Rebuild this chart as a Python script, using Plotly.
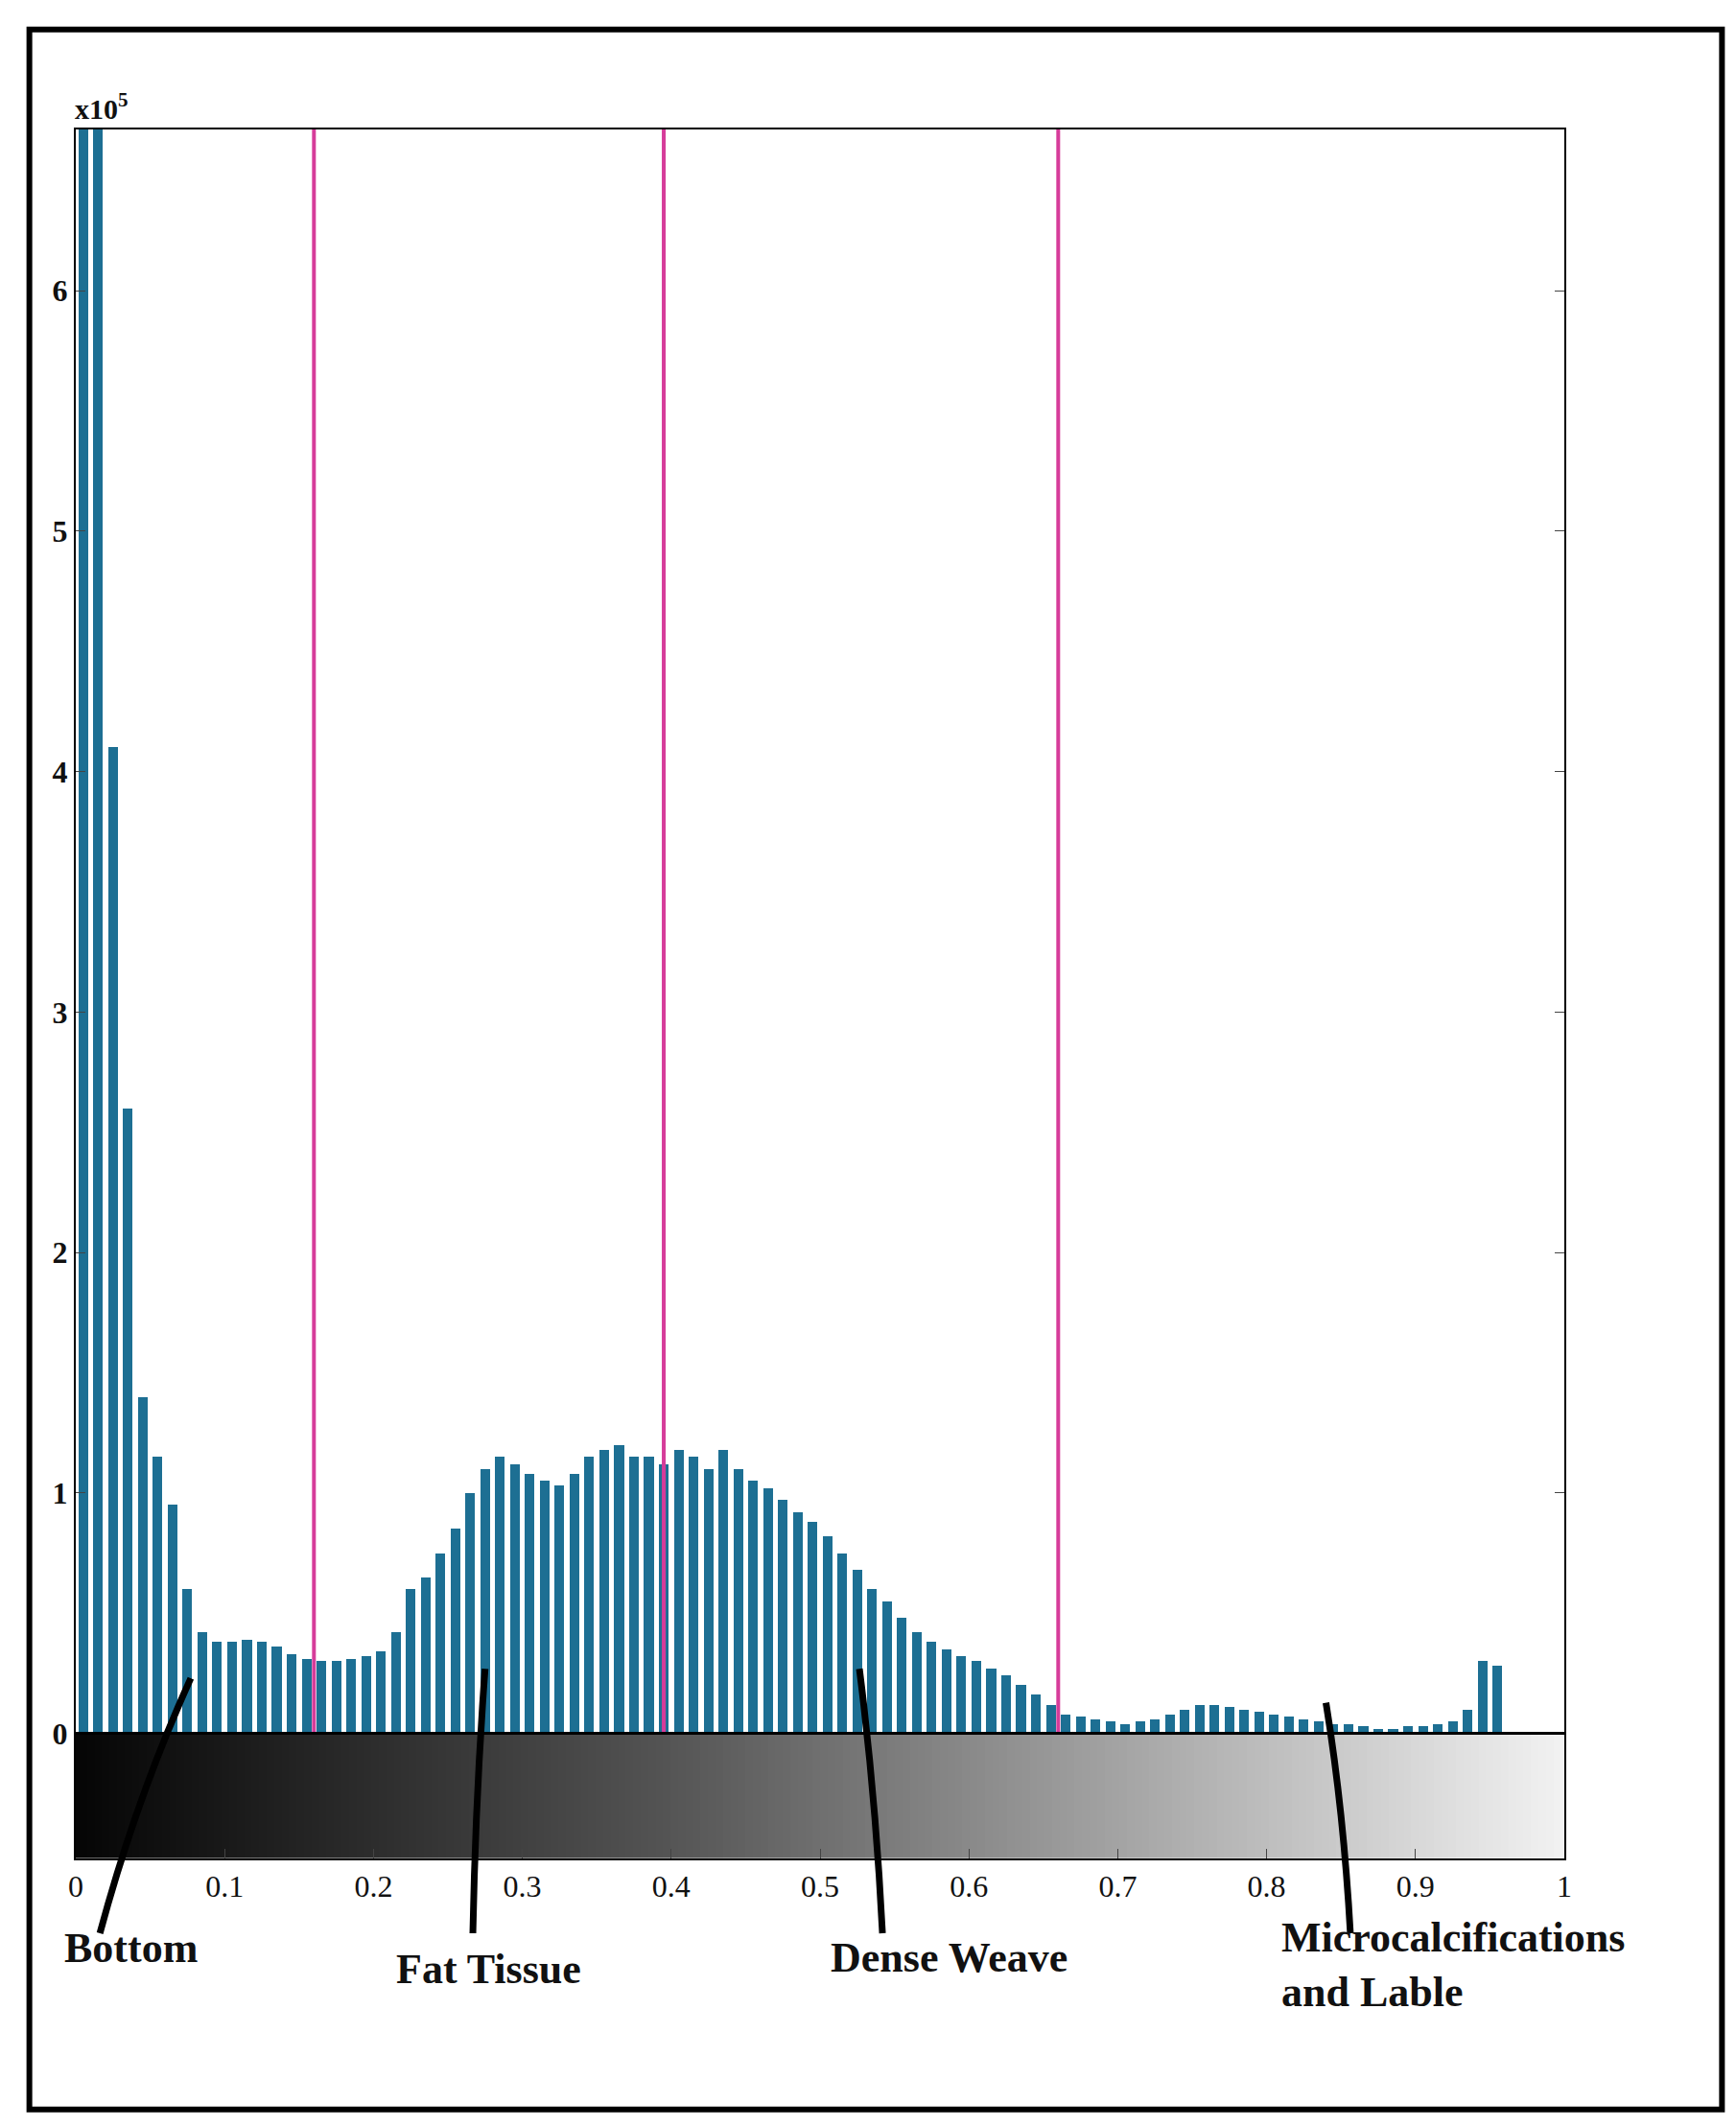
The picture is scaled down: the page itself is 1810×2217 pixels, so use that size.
import plotly.graph_objects as go
import numpy as np

# histogram bins (centre of each 0.01 bin) and counts in units of 1e5
bin_x = [round(0.005 + 0.01 * i, 3) for i in range(96)]
counts = [7.0, 6.7, 4.1, 2.6, 1.4, 1.15, 0.95, 0.6, 0.42, 0.38,
          0.38, 0.39, 0.38, 0.36, 0.33, 0.31, 0.30, 0.30, 0.31, 0.32,
          0.34, 0.42, 0.60, 0.65, 0.75, 0.85, 1.00, 1.10, 1.15, 1.12,
          1.08, 1.05, 1.03, 1.08, 1.15, 1.18, 1.20, 1.15, 1.15, 1.12,
          1.18, 1.15, 1.10, 1.18, 1.10, 1.05, 1.02, 0.97, 0.92, 0.88,
          0.82, 0.75, 0.68, 0.60, 0.55, 0.48, 0.42, 0.38, 0.35, 0.32,
          0.30, 0.27, 0.24, 0.20, 0.16, 0.12, 0.08, 0.07, 0.06, 0.05,
          0.04, 0.05, 0.06, 0.08, 0.10, 0.12, 0.12, 0.11, 0.10, 0.09,
          0.08, 0.07, 0.06, 0.05, 0.04, 0.04, 0.03, 0.02, 0.02, 0.03,
          0.03, 0.04, 0.05, 0.10, 0.30, 0.28]
thresholds = [0.16, 0.395, 0.66]
x_ticks = [0, 0.1, 0.2, 0.3, 0.4, 0.5, 0.6, 0.7, 0.8, 0.9, 1]
x_labels = ["0", "0.1", "0.2", "0.3", "0.4", "0.5", "0.6", "0.7", "0.8", "0.9", "1"]
y_ticks = [0, 1, 2, 3, 4, 5, 6]
y_labels = ["<b>%d</b>" % v for v in y_ticks]
labels = ["Bottom", "Fat Tissue", "Dense Weave", "Microcalcifications<br>and Lable"]

W, H = 1810, 2217
L, R, T, B = 71, 1623, 127, 1930


def px(X):
    return (X - L) / (R - L)


def py(Y):
    return (B - Y) / (B - T)


s = W / 1280  # reference was read at 1280 px wide

fig = go.Figure()

# grey intensity strip under the axis
grad = np.linspace(0, 1, 200)
fig.add_trace(go.Heatmap(x=grad, y0=-0.26, dy=0.52, z=[grad],
                         colorscale=[[0, "#050505"], [0.4, "#555"], [1, "#f2f2f2"]],
                         showscale=False, hoverinfo="skip"))

fig.add_trace(go.Bar(x=bin_x, y=counts, width=0.0065,
                     marker=dict(color="#1d6f93", line=dict(width=0))))

for t in thresholds:
    fig.add_shape(type="line", x0=t, x1=t, y0=0, y1=6.67,
                  line=dict(color="#d63c9a", width=4))

fig.add_shape(type="line", x0=0, x1=1, y0=0, y1=0, line=dict(color="black", width=3))

# pointer strokes and labels
strokes = [((135, 1232), (95, 1320), (68, 1420)),
           ((352, 1225), (345, 1320), (343, 1420)),
           ((628, 1225), (640, 1320), (645, 1420)),
           ((972, 1250), (985, 1330), (990, 1420))]
for (a, b, c) in strokes:
    path = "M %f %f Q %f %f %f %f" % (px(a[0] * s), py(a[1] * s), px(b[0] * s), py(b[1] * s),
                                      px(c[0] * s), py(c[1] * s))
    fig.add_shape(type="path", path=path, xref="paper", yref="paper",
                  line=dict(color="black", width=7))

label_pos = [(40, 1450), (285, 1465), (605, 1457), (938, 1482)]
for txt, (lx, ly) in zip(labels, label_pos):
    fig.add_annotation(x=px(lx * s), y=py(ly * s), xref="paper", yref="paper",
                       text="<b>" + txt.replace("<br>", "</b><br><b>") + "</b>",
                       showarrow=False, align="left", xanchor="left",
                       font=dict(family="Liberation Serif", size=44, color="#111"))

fig.add_annotation(x=px(48 * s), y=py(88 * s), xref="paper", yref="paper",
                   text="<b>x10<sup>5</sup></b>", showarrow=False, xanchor="left",
                   yanchor="bottom",
                   font=dict(family="Liberation Serif", size=30, color="#111"))

# outer frame
fig.add_shape(type="rect", xref="paper", yref="paper",
              x0=px(16 * s), x1=px(1264 * s), y0=py(1550 * s), y1=py(16 * s),
              line=dict(color="black", width=6))

fig.update_layout(width=W, height=H, margin=dict(l=L, r=W - R, t=T, b=H - B),
                  paper_bgcolor="white", plot_bgcolor="white", showlegend=False,
                  bargap=0)
fig.update_xaxes(range=[0, 1], tickvals=x_ticks, ticktext=x_labels, showgrid=False,
                 zeroline=False, showline=True, linecolor="black", linewidth=2,
                 mirror=True, ticks="inside", ticklen=10,
                 tickfont=dict(family="Liberation Serif", size=32, color="#111"))
fig.update_yaxes(range=[-0.52, 6.67], tickvals=y_ticks, ticktext=y_labels,
                 showgrid=False, zeroline=False,
                 showline=True, linecolor="black", linewidth=2, mirror="ticks",
                 ticks="inside", ticklen=10,
                 tickfont=dict(family="Liberation Serif", size=32, color="#111"))

fig.write_html("out.html")
